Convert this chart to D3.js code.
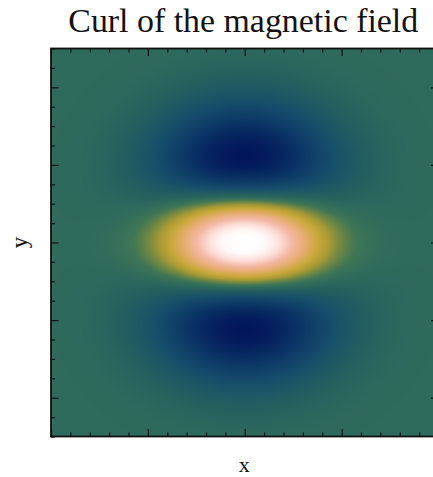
<!DOCTYPE html>
<html>
<head>
<meta charset="utf-8">
<script src="https://cdn.jsdelivr.net/npm/d3@7"></script>
<style>
  html, body { margin: 0; padding: 0; background: #fff; }
  svg { display: block; }
  text { font-family: "Liberation Serif", "DejaVu Serif", serif; fill: #111; }
</style>
</head>
<body>
<script>
// Axis extents and ticks
const xDomain = [-2, 2];
const yDomain = [-5, 5];
const xMajor = [-2, -1, 0, 1, 2];
const yMajor = [-4, -2, 0, 2, 4];
const xMinorStep = 0.2;
const yMinorStep = 0.5;

// Field: (1 - (x/x0)^2 - (y/y0)^2) * exp(-x^2/(2 sx^2) - y^2/(2 sy^2)), peak 1 at origin
const fieldX0 = 1.7;
const fieldY0 = 1.17;
const fieldSx = 0.6;
const fieldSy = 1.36;

// Colour map stops (field value -> colour)
const cmapValues = [-1.0, -0.685, -0.45, -0.25, -0.08, 0.0, 0.08, 0.15, 0.25, 0.35, 0.5, 0.65, 0.8, 0.92, 1.0];
const cmapColors = ["#000a3a", "#02175a", "#0b3566", "#164d6b", "#25605f", "#2f6b5c",
                    "#3f7656", "#6a8546", "#a89a36", "#c9a83a", "#e6ad70", "#f4b8a4", "#fde0dc", "#fffafa", "#ffffff"];

const titleText = "Curl of the magnetic field";
const xLabel = "x";
const yLabel = "y";

const W = 433, H = 477;
const margin = { left: 51, top: 48.5, right: 438.5, bottom: 436.5 };

const x = d3.scaleLinear().domain(xDomain).range([margin.left, margin.right]);
const y = d3.scaleLinear().domain(yDomain).range([margin.bottom, margin.top]);
const color = d3.scaleLinear().domain(cmapValues).range(cmapColors)
  .interpolate(d3.interpolateRgb).clamp(true);

const svg = d3.select("body").append("svg").attr("width", W).attr("height", H);

// Rasterise the field onto a canvas, one cell per screen pixel
const pw = Math.round(margin.right - margin.left);
const ph = Math.round(margin.bottom - margin.top);
const canvas = document.createElement("canvas");
canvas.width = pw; canvas.height = ph;
const ctx = canvas.getContext("2d");
const img = ctx.createImageData(pw, ph);
function field(xv, yv) {
  return (1 - (xv / fieldX0) ** 2 - (yv / fieldY0) ** 2) *
    Math.exp(-(xv * xv) / (2 * fieldSx * fieldSx) - (yv * yv) / (2 * fieldSy * fieldSy));
}
for (let j = 0; j < ph; j++) {
  const yv = y.invert(margin.top + j + 0.5);
  for (let i = 0; i < pw; i++) {
    const xv = x.invert(margin.left + i + 0.5);
    const c = d3.rgb(color(field(xv, yv)));
    const k = 4 * (j * pw + i);
    img.data[k] = c.r; img.data[k + 1] = c.g; img.data[k + 2] = c.b; img.data[k + 3] = 255;
  }
}
ctx.putImageData(img, 0, 0);

svg.append("image")
  .attr("x", x(xDomain[0])).attr("y", y(yDomain[1]))
  .attr("width", x(xDomain[1]) - x(xDomain[0]))
  .attr("height", y(yDomain[0]) - y(yDomain[1]))
  .attr("preserveAspectRatio", "none")
  .attr("href", canvas.toDataURL());

// Ticks pointing inwards on all four sides, without labels
const xMinor = d3.range(xDomain[0], xDomain[1] + 1e-9, xMinorStep).filter(v => !xMajor.some(m => Math.abs(m - v) < 1e-9));
const yMinor = d3.range(yDomain[0], yDomain[1] + 1e-9, yMinorStep).filter(v => !yMajor.some(m => Math.abs(m - v) < 1e-9));
const majorLen = 7.5, minorLen = 4;

function addAxis(axisFn, scale, major, minor, transform) {
  const gMaj = svg.append("g").attr("transform", transform)
    .call(axisFn(scale).tickValues(major).tickSize(-majorLen).tickFormat(""));
  const gMin = svg.append("g").attr("transform", transform)
    .call(axisFn(scale).tickValues(minor).tickSize(-minorLen).tickFormat(""));
  [gMaj, gMin].forEach(g => {
    g.select(".domain").remove();
    g.selectAll(".tick line").attr("stroke", "#111").attr("stroke-width", 1.2);
  });
}
addAxis(d3.axisBottom, x, xMajor, xMinor, `translate(0,${margin.bottom})`);
addAxis(d3.axisTop, x, xMajor, xMinor, `translate(0,${margin.top})`);
addAxis(d3.axisLeft, y, yMajor, yMinor, `translate(${margin.left},0)`);
addAxis(d3.axisRight, y, yMajor, yMinor, `translate(${margin.right},0)`);

// Frame
svg.append("rect")
  .attr("x", margin.left).attr("y", margin.top)
  .attr("width", margin.right - margin.left).attr("height", margin.bottom - margin.top)
  .attr("fill", "none").attr("stroke", "#111").attr("stroke-width", 1.8);

// Title and axis labels
const cxPlot = (margin.left + margin.right) / 2;
const title = svg.append("text")
  .attr("x", cxPlot - 1.5).attr("y", 32)
  .attr("text-anchor", "middle")
  .style("font-size", "28px")
  .text(titleText);
const tw = title.node().getComputedTextLength();
title.style("font-size", (28 * 350 / tw).toFixed(2) + "px");

svg.append("text")
  .attr("x", cxPlot - 0.5).attr("y", 472)
  .attr("text-anchor", "middle")
  .style("font-size", "22px")
  .text(xLabel);

svg.append("text")
  .attr("transform", `translate(27,${(margin.top + margin.bottom) / 2}) rotate(-90)`)
  .attr("text-anchor", "middle")
  .style("font-size", "23px")
  .text(yLabel);
</script>
</body>
</html>
